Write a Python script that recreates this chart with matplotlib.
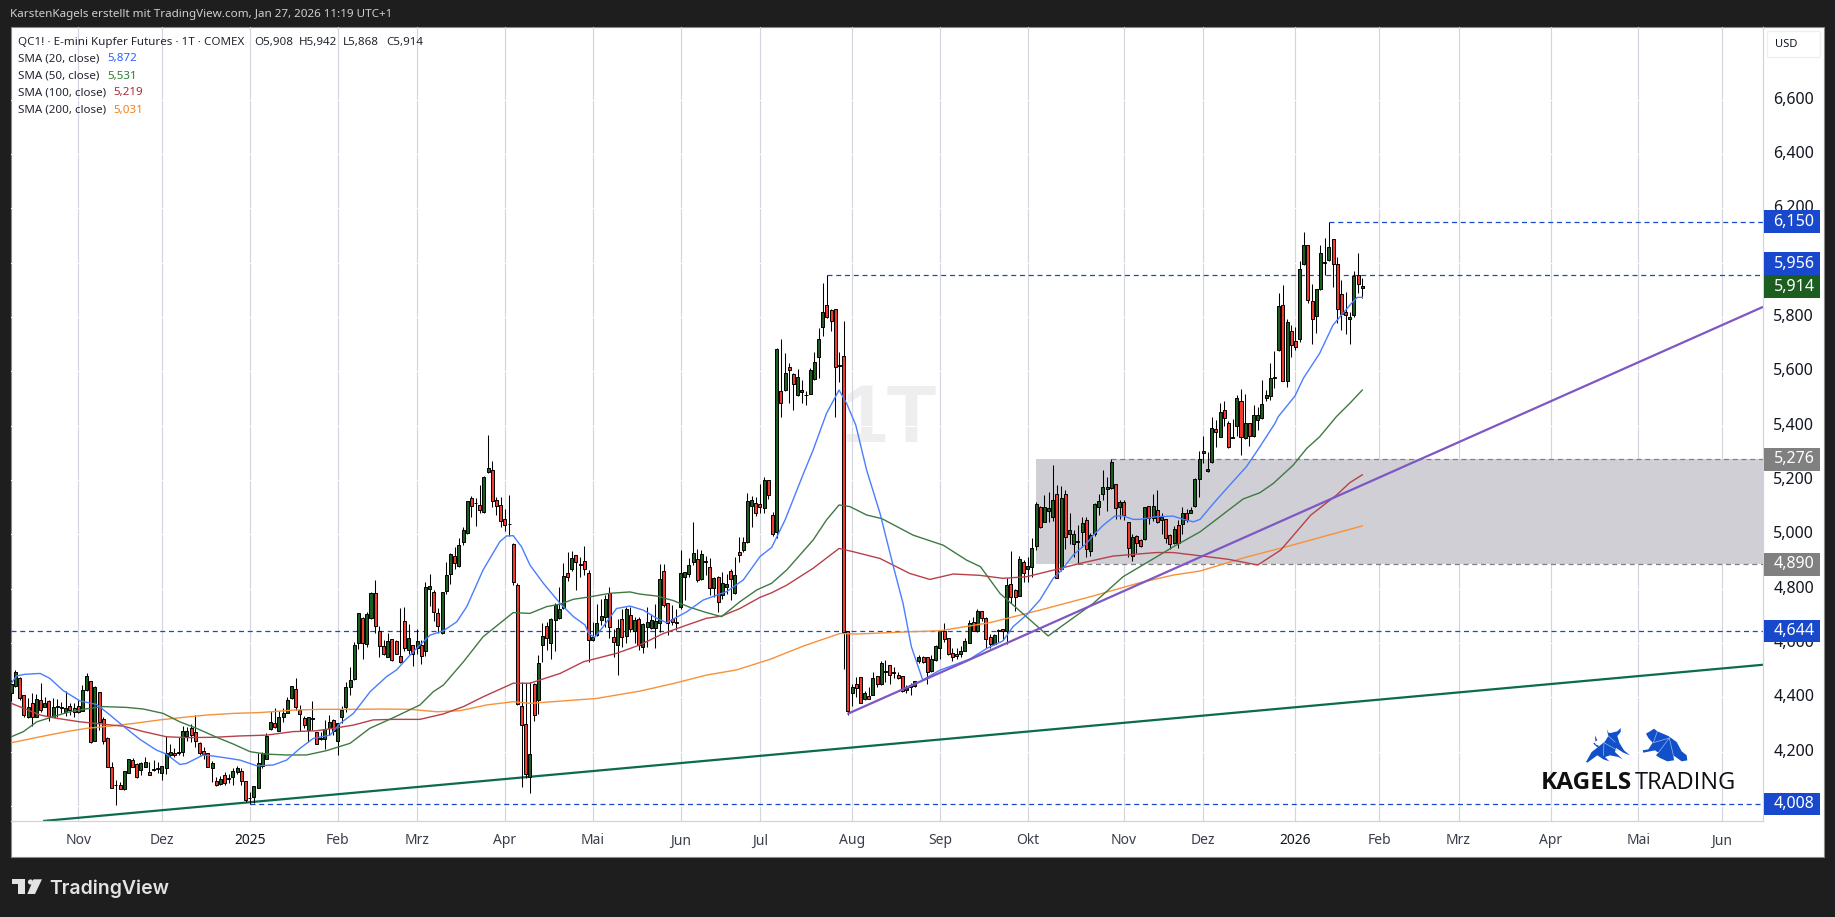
import matplotlib
matplotlib.use("Agg")
import matplotlib.pyplot as plt
from matplotlib.patches import Rectangle, Polygon, Circle
from matplotlib.transforms import blended_transform_factory, ScaledTranslation

# Daily candles
opens = [
    4417,4443,4470,4407,4326,4378,4329,4390,4363,4387,
    4329,4366,4363,4347,4368,4361,4368,4351,4427,4459,
    4241,4420,4319,4250,4142,4079,4076,4061,4123,4169,
    4153,4133,4145,4124,4138,4138,4120,4141,4189,4194,
    4196,4200,4259,4286,4271,4231,4201,4194,4141,4091,
    4080,4114,4100,4108,4124,4129,4092,4030,4034,4068,
    4147,4174,4282,4304,4277,4329,4344,4399,4429,4353,
    4323,4280,4320,4274,4245,4248,4286,4317,4241,4329,
    4363,4439,4466,4599,4692,4596,4692,4783,4644,4588,
    4550,4613,4606,4551,4680,4574,4591,4583,4591,4572,
    4800,4786,4709,4638,4791,4853,4919,4884,4973,5004,
    5132,5114,5107,5081,5229,5235,5125,5108,5055,5039,
    4965,4812,4370,4301,4106,4449,4390,4594,4661,4601,
    4683,4691,4730,4856,4874,4923,4889,4900,4856,4611,
    4629,4685,4694,4785,4623,4594,4689,4627,4704,4645,
    4689,4584,4660,4656,4654,4672,4866,4746,4687,4676,
    4731,4842,4854,4899,4908,4837,4897,4881,4802,4842,
    4777,4807,4865,4783,4934,4942,4973,5105,5116,5110,
    5098,5199,5070,5010,5529,5531,5614,5589,5511,5522,
    5511,5516,5573,5651,5764,5843,5824,5828,5624,5655,
    4643,4417,4448,4474,4393,4405,4410,4477,4448,4495,
    4518,4492,4484,4477,4426,4437,4443,4533,4548,4547,
    4498,4536,4583,4646,4617,4565,4558,4559,4571,4601,
    4676,4643,4716,4693,4622,4595,4643,4651,4645,4819,
    4795,4774,4897,4873,4881,4957,5101,5046,5087,5062,
    5147,4871,5150,5001,4964,4970,5009,5051,4940,5001,
    5099,5149,5165,5171,5187,5101,5119,5044,4921,4992,
    4978,4981,5103,5060,5088,5054,5056,4996,4967,5033,
    5039,5077,5079,5105,5202,5301,5234,5265,5386,5359,
    5456,5408,5355,5400,5489,5353,5408,5360,5422,5427,
    5503,5510,5576,5678,5845,5566,5747,5710,5717,5993,
    6063,5857,5804,5901,6000,6008,6085,5993,5883,5820,
    5791,5808,5956,5908,
]
highs = [
    4464,4501,4476,4407,4396,4415,4412,4452,4402,4390,
    4396,4393,4384,4425,4378,4378,4390,4445,4491,4461,
    4442,4421,4326,4255,4163,4096,4090,4128,4172,4178,
    4157,4163,4179,4163,4169,4163,4147,4258,4228,4212,
    4255,4294,4292,4302,4335,4237,4218,4196,4167,4108,
    4111,4126,4118,4139,4147,4139,4093,4053,4074,4194,
    4200,4270,4351,4360,4351,4360,4400,4442,4470,4372,
    4331,4329,4387,4274,4274,4317,4335,4319,4307,4368,
    4458,4510,4605,4709,4697,4715,4786,4832,4663,4611,
    4636,4613,4611,4728,4731,4670,4591,4650,4611,4826,
    4854,4795,4728,4789,4897,4930,4954,4985,5026,5124,
    5141,5132,5181,5214,5365,5268,5138,5136,5092,5145,
    4967,4822,4458,4452,4458,4454,4556,4675,4678,4691,
    4748,4807,4896,4934,4939,4925,4918,4957,4869,4678,
    4742,4761,4777,4805,4650,4687,4724,4734,4734,4694,
    4694,4672,4734,4707,4742,4891,4891,4748,4740,4727,
    4942,4862,4912,5046,4945,4942,4920,4912,4844,4847,
    4860,4853,4871,4915,4989,4989,5151,5141,5136,5187,
    5212,5200,5083,5684,5720,5668,5632,5592,5607,5568,
    5529,5611,5671,5760,5926,5956,5831,5830,5672,5784,
    4645,4449,4476,4476,4424,4437,4493,4477,4532,4537,
    4518,4513,4494,4477,4445,4454,4459,4556,4552,4549,
    4556,4592,4648,4672,4618,4580,4580,4589,4617,4684,
    4694,4724,4719,4694,4635,4632,4650,4651,4838,4938,
    4797,4920,4905,4917,4985,5120,5104,5144,5157,5255,
    5181,5178,5163,5077,5016,5034,5065,5062,5006,5114,
    5150,5236,5212,5276,5187,5126,5128,5046,5000,4997,
    4981,5101,5104,5147,5163,5077,5056,5001,5030,5052,
    5101,5095,5099,5209,5306,5361,5304,5430,5420,5482,
    5490,5418,5424,5511,5533,5516,5411,5476,5467,5568,
    5531,5629,5674,5887,5917,5794,5769,5764,6006,6111,
    6064,5923,5901,6064,6089,6150,6085,6021,5936,5890,
    5817,5968,6034,5942,
]
lows = [
    4388,4439,4390,4329,4323,4294,4326,4347,4363,4314,
    4326,4329,4341,4331,4335,4329,4341,4351,4425,4233,
    4241,4280,4228,4142,4068,4004,4061,4059,4120,4142,
    4104,4114,4145,4114,4130,4123,4096,4118,4182,4182,
    4187,4184,4241,4237,4218,4188,4174,4142,4090,4075,
    4077,4077,4084,4079,4118,4077,4016,4008,4010,4065,
    4141,4172,4280,4286,4275,4310,4341,4393,4353,4276,
    4286,4234,4280,4228,4243,4210,4261,4261,4188,4304,
    4347,4409,4464,4577,4542,4586,4687,4636,4547,4556,
    4547,4535,4559,4528,4572,4559,4515,4559,4523,4552,
    4736,4682,4636,4633,4780,4817,4871,4878,4961,5001,
    5065,5031,5080,5080,5227,5102,5071,5028,5012,4994,
    4813,4372,4069,4102,4049,4314,4339,4531,4574,4543,
    4572,4687,4726,4829,4866,4795,4842,4851,4531,4609,
    4627,4666,4660,4617,4550,4482,4586,4599,4642,4599,
    4574,4564,4586,4650,4580,4642,4734,4629,4666,4648,
    4727,4758,4844,4887,4826,4832,4850,4777,4768,4715,
    4761,4780,4758,4780,4899,4936,4969,5028,5067,5080,
    5080,5129,4994,4985,5433,5529,5482,5457,5509,5484,
    5476,5516,5568,5574,5730,5795,5749,5433,5562,4505,
    4335,4368,4402,4378,4390,4393,4407,4437,4445,4457,
    4449,4472,4466,4419,4415,4408,4439,4527,4525,4451,
    4494,4533,4543,4605,4556,4535,4540,4547,4569,4599,
    4644,4641,4682,4580,4580,4591,4605,4611,4596,4748,
    4719,4773,4825,4825,4844,4942,5025,5044,5046,5050,
    4838,4866,4946,4964,4917,4890,4954,4915,4921,4993,
    5071,5126,5086,5165,5055,5055,5052,4915,4903,4930,
    4954,4979,5038,5050,5040,5003,4967,4946,4964,4951,
    5003,5046,5077,5101,5138,5261,5230,5263,5322,5357,
    5398,5319,5353,5361,5293,5352,5325,5359,5384,5425,
    5490,5494,5539,5676,5565,5543,5653,5678,5709,5991,
    5852,5700,5742,5899,5954,6007,5911,5779,5752,5737,
    5700,5801,5889,5868,
]
closes = [
    4448,4492,4396,4336,4366,4326,4393,4353,4378,4331,
    4363,4368,4361,4361,4353,4346,4346,4427,4479,4237,
    4439,4310,4241,4145,4068,4078,4064,4128,4172,4145,
    4106,4157,4161,4115,4133,4140,4147,4194,4198,4188,
    4199,4275,4275,4261,4241,4196,4190,4145,4158,4076,
    4098,4086,4102,4128,4139,4093,4022,4028,4072,4160,
    4196,4256,4309,4292,4326,4341,4390,4440,4366,4340,
    4298,4326,4323,4229,4250,4282,4309,4277,4306,4352,
    4437,4464,4593,4709,4601,4707,4784,4664,4590,4561,
    4606,4536,4561,4529,4583,4617,4559,4606,4553,4805,
    4808,4713,4664,4786,4849,4926,4896,4959,5017,5121,
    5105,5115,5091,5210,5243,5121,5105,5048,5035,5038,
    4824,4377,4297,4119,4190,4334,4525,4624,4617,4688,
    4740,4727,4845,4844,4912,4897,4886,4871,4611,4623,
    4672,4698,4761,4660,4602,4654,4621,4724,4650,4685,
    4593,4670,4678,4685,4680,4834,4741,4672,4676,4674,
    4856,4862,4886,4932,4831,4926,4900,4804,4838,4752,
    4820,4816,4834,4849,4923,4970,5121,5125,5080,5099,
    5199,5143,5002,5683,5484,5592,5603,5552,5578,5530,
    5513,5605,5635,5720,5820,5801,5786,5614,5621,4642,
    4351,4437,4436,4380,4415,4395,4471,4448,4526,4498,
    4481,4491,4470,4422,4433,4444,4459,4548,4530,4495,
    4541,4590,4644,4616,4558,4549,4553,4569,4606,4672,
    4646,4717,4692,4613,4595,4629,4648,4643,4813,4768,
    4770,4908,4856,4882,4948,5111,5028,5100,5097,5125,
    4841,5132,4991,5016,5000,4975,5040,4947,4997,5110,
    5121,5173,5173,5265,5098,5119,5070,4948,4989,4967,
    4957,5099,5061,5106,5046,5063,4985,4965,5018,4967,
    5077,5052,5089,5203,5279,5306,5242,5390,5375,5452,
    5427,5321,5358,5500,5359,5408,5360,5438,5438,5478,
    5511,5574,5579,5839,5566,5783,5695,5690,5975,6063,
    5861,5794,5901,6034,6002,6056,5993,5831,5812,5808,
    5799,5949,5920,5914,
]

# Moving averages, read at bar positions
sma20_x = [0,1.3,3.3,6.9,9.2,12.4,16.4,20.4,23.6,26.8,30.8,34.7,37.1,40.3,41.9,45.9,48.3,52.3,54.7,58.7,62.6,65.8,69,
           72.2,76.2,78.6,81.8,85.8,89.7,92.1,96.1,100.1,103.3,106.5,108.9,112.8,116.8,118.4,120,122,124,127.2,131.2,
           134.4,137.2,138,139.5,141.5,144.7,147.9,151.1,154.3,156.7,161.5,165.4,171,175,179,181.8,185,189.4,191.7,194.9,
           197.9,199.7,201.9,204.5,207.7,210.9,213.2,215.2,217.9,222,229.2,233.2,237.1,239.5,242.7,245.9,249.1,251.1,253.9,
           257.1,258.7,261.1,263.8,265.8,268.2,269.8,273.8,277.8,280.2,282.6,284.2,288.1,291.3,295.3,298.5,302.1,302.9,
           306.9,308.9,312.8,316,320.4,321.8,323]
sma20_y = [4452,4479,4485,4488,4470,4425,4387,4374,4335,4294,4245,4206,4191,4153,4157,4188,4184,4175,4169,4148,4151,4169,4212,
           4249,4261,4304,4341,4421,4476,4501,4568,4629,4645,4678,4734,4869,4973,4994,4995,4954,4887,4820,4746,
           4697,4666,4635,4621,4660,4727,4736,4721,4691,4675,4715,4758,4789,4832,4918,4952,5053,5224,5310,5445,
           5531,5482,5402,5236,5077,4881,4746,4586,4464,4500,4541,4580,4608,4660,4703,4758,4838,4868,4924,
           4967,4997,5034,5067,5068,5055,5055,5065,5067,5055,5046,5055,5126,5181,5249,5322,5408,5433,
           5509,5574,5666,5770,5850,5872,5872]
sma50_x = [0,2.9,6.1,10,14,18,22,27.6,31.6,36.3,40.3,44.3,49.1,53.1,57.1,61,65.8,70.6,75.4,81,85.7,91.3,97.7,100.9,103.3,108.1,
           112.8,120,124,128,131.2,134.4,138.4,143.1,147.9,150.3,154.3,158.3,162.3,166.2,169.8,174.2,178.2,181.8,185.4,191.7,
           194.9,197.9,200.5,204.5,208.1,215.6,222.8,228.4,231.7,236.4,247.9,258.7,265.8,273.8,277.8,284.2,294.5,298.5,301.7,
           306.5,309.7,312.8,316.8,320,323]
sma50_y = [4255,4274,4310,4329,4347,4358,4366,4363,4357,4341,4310,4286,4253,4228,4200,4191,4188,4188,4204,4231,4286,4325,4372,4421,4445,4531,
           4623,4712,4709,4734,4743,4761,4770,4783,4788,4780,4773,4756,4731,4712,4697,4752,4795,4820,4869,4979,
           5053,5108,5102,5071,5058,4997,4960,4905,4881,4782,4626,4746,4844,4917,4954,5009,5130,5153,5187,
           5255,5316,5359,5433,5482,5531]
sma100_x = [0,2.9,6.9,10.8,16.4,22,26.8,31.6,37.1,41.9,48.3,54.7,61,67.4,73,78.6,81.8,86.5,91.3,97.7,103.3,108.1,112.8,120,124,131.2,136.8,
            144.7,150.3,155.9,161.5,166.2,169.8,174.2,179,181.8,185.4,191.7,197.9,201.3,207.7,214.8,219.6,225.2,231.6,237.1,242.7,
            249.1,255.5,263.4,273.8,277.8,284.2,291,298,303.5,310.7,316.8,320,323]
sma100_y = [4378,4360,4335,4323,4310,4301,4294,4274,4255,4252,4253,4258,4261,4274,4277,4290,4298,4317,4319,4319,4339,4366,4402,4452,4452,4488,4531,
            4562,4593,4635,4666,4691,4699,4727,4768,4785,4813,4875,4948,4936,4911,4856,4834,4854,4849,4838,4844,
            4868,4893,4920,4933,4933,4921,4908,4887,4942,5071,5144,5190,5219]
sma200_x = [0,6.9,13.2,18,23.6,29.2,35.5,40.3,46.7,53.1,59.4,67.4,73.8,81,88.9,95.3,101.7,107.3,113.6,120,124,131.2,139.9,150.3,158.3,166.2,
            173.4,181.4,189.4,198.1,202.1,214,222,234,245.9,257.9,269.8,277.8,284.2,295,305,314,323]
sma200_y = [4233,4255,4274,4286,4294,4304,4317,4325,4335,4341,4344,4353,4356,4356,4357,4356,4347,4351,4372,4384,4378,4386,4396,4423,4451,4482,
            4501,4540,4589,4635,4633,4641,4645,4675,4721,4770,4822,4850,4865,4915,4955,4993,5031]

# Trend lines and levels
green_trend_x = [7.6, 418.8]
green_trend_y = [3945, 4520]
purple_trend_x = [199.9, 418.8]
purple_trend_y = [4339, 5837]
blue_levels = [4644, 4008, 5956, 6150]
blue_level_starts = [0, 57, 195, 315]
zone_start = 245
zone_low = 4890
zone_high = 5276
zone_dash_starts = [255, 263]

# Right axis
price_ticks = [4000,4200,4400,4600,4800,5000,5200,5400,5600,5800,6000,6200,6400,6600]
badge_labels = ["6,150","5,956","5,914","5,276","4,890","4,644","4,008"]
badge_prices = [6150,5996,5912,5276,4890,4644,4008]
badge_colors = ["#1848cc","#1848cc","#1b5e20","#808080","#808080","#1848cc","#1848cc"]

# Time axis
month_bars = [16,36,57,78,97,118,139,160,179,201,222,243,266,285,307,327,346,368,389,409]
month_labels = ["Nov","Dez","2025","Feb","Mrz","Apr","Mai","Jun","Jul","Aug","Sep","Okt","Nov","Dez","2026","Feb","Mrz","Apr","Mai","Jun"]

# Legend rows
ohlc_labels = ["O5,908","H5,942","L5,868","C5,914"]
legend_names = ["SMA (20, close)","SMA (50, close)","SMA (100, close)","SMA (200, close)"]
legend_values = ["5,872","5,531","5,219","5,031"]
legend_colors = ["#2962ff","#2e7d32","#b22833","#f57f17"]

W, H = 1835, 917
UI_FONT = "Noto Sans"
LEGEND_SIZE = 8.35
TICK_SIZE = 11.5

fig = plt.figure(figsize=(W / 100, H / 100), dpi=100, facecolor="#1e1e1e")

# Back layer in pixel coordinates: white panel
back = fig.add_axes([0, 0, 1, 1], zorder=0)
back.set_xlim(0, W)
back.set_ylim(H, 0)
back.axis("off")
back.add_patch(Rectangle((10.5, 27), 1813.5, 829.5, fc="white", ec="#8a8a8a", lw=0.8))
back.text(890, 421, "1T", fontsize=59, fontweight="bold", color="#eeeeee", ha="center", va="center", family="Liberation Sans")

# Main chart
L, R, T, B = 11, 1763, 27, 821
ax = fig.add_axes([L / W, 1 - B / H, (R - L) / W, (B - T) / H], zorder=1)
ax.patch.set_alpha(0)
ax.set_xlim(-0.07, 418.8)
ax.set_ylim(3945, 6867)

for b in month_bars:
    ax.axvline(b, color="#d3d4dd", lw=0.85, zorder=0.5)
for p in price_ticks:
    ax.axhline(p, color="white", lw=0.8, zorder=0.6)

ax.add_patch(Rectangle((zone_start, zone_low), 418.8 - zone_start, zone_high - zone_low, fc="#cfcfd5", ec="none", zorder=1))
ax.hlines(zone_high, zone_dash_starts[1], 418.8, color="#808080", lw=0.9, linestyles=(0, (4, 3)), zorder=1.5)
ax.hlines(zone_low, zone_dash_starts[0], 418.8, color="#808080", lw=0.9, linestyles=(0, (4, 3)), zorder=1.5)
for level, start in zip(blue_levels, blue_level_starts):
    ax.hlines(level, start, 418.8, color="#1848cc", lw=0.9, linestyles=(0, (4, 3)), zorder=1.5)

# Candles
bars = range(len(closes))
ax.vlines(bars, lows, highs, color="black", lw=0.75, zorder=3)
for i in bars:
    up = closes[i] >= opens[i]
    ax.bar(i, abs(closes[i] - opens[i]), bottom=min(opens[i], closes[i]), width=0.72,
           color="#1b5e20" if up else "#f23a2f", edgecolor="black", linewidth=0.7, zorder=3.2)

ax.plot(sma200_x, sma200_y, color="#f7913a", lw=1.0, zorder=4)
ax.plot(sma100_x, sma100_y, color="#b8404a", lw=1.0, zorder=4.1)
ax.plot(sma50_x, sma50_y, color="#3f7a44", lw=1.0, zorder=4.2)
ax.plot(sma20_x, sma20_y, color="#4a7dff", lw=1.0, zorder=4.3)
ax.plot(green_trend_x, green_trend_y, color="#0b6b50", lw=1.6, zorder=2.5, solid_capstyle="butt")
ax.plot(purple_trend_x, purple_trend_y, color="#7e57c2", lw=1.6, zorder=5, solid_capstyle="butt")

for side in ("top", "left"):
    ax.spines[side].set_visible(False)
for side in ("bottom", "right"):
    ax.spines[side].set_color("#d1d4dc")
    ax.spines[side].set_linewidth(0.9)

ax.yaxis.tick_right()
ax.set_yticks(price_ticks)
ax.set_yticklabels([f"{p:,}" for p in price_ticks], fontsize=TICK_SIZE, color="#131722", family=UI_FONT)
ax.tick_params(axis="y", length=0, pad=7.5)
# tick texts sit slightly above their price level in the original
lift = ScaledTranslation(0, 2 / 100, fig.dpi_scale_trans)
for lab in ax.get_yticklabels():
    lab.set_transform(lab.get_transform() + lift)
ax.set_xticks(month_bars)
ax.set_xticklabels(month_labels, fontsize=10, color="#3a3e4a", family=UI_FONT)
ax.tick_params(axis="x", length=0, pad=9)
for lab in ax.get_xticklabels():
    if lab.get_text() in ("2025", "2026"):
        lab.set_fontweight("bold")
        lab.set_color("#131722")

# Front layer in pixel coordinates: header, legend, badges, logos
front = fig.add_axes([0, 0, 1, 1], zorder=2)
front.set_xlim(0, W)
front.set_ylim(H, 0)
front.axis("off")
front.patch.set_alpha(0)

front.text(10, 15, "KarstenKagels erstellt mit TradingView.com, Jan 27, 2026 11:19 UTC+1",
           fontsize=8.4, color="#cfcfcf", va="center", family=UI_FONT)
front.text(18, 42, "QC1! \u00b7 E-mini Kupfer Futures \u00b7 1T \u00b7 COMEX",
           fontsize=LEGEND_SIZE, color="#222631", va="center", family=UI_FONT)
for lab, x in zip(ohlc_labels, [254, 299, 343, 386]):
    front.text(x, 42, lab, fontsize=LEGEND_SIZE, color="#222631", va="center", family=UI_FONT)
legend_y = [59, 76, 93, 110]
value_x = [107, 107, 113, 113]
for name, val, col, y, vx in zip(legend_names, legend_values, legend_colors, legend_y, value_x):
    front.text(18, y, name, fontsize=LEGEND_SIZE, color="#222631", va="center", family=UI_FONT)
    front.text(vx, y, val, fontsize=LEGEND_SIZE, color=col, va="center", family=UI_FONT)

# USD box
front.add_patch(Rectangle((1767, 31), 53, 26, fc="white", ec="#eeeeee", lw=0.9))
front.text(1786, 44.5, "USD", fontsize=8, color="#131722", ha="center", va="center", family=UI_FONT)

# Price badges sit on the price scale
trans = blended_transform_factory(front.transData, ax.transData)
for lab, price, col in zip(badge_labels, badge_prices, badge_colors):
    front.add_patch(Rectangle((1764, price - 41.8), 56, 83.6, transform=trans, fc=col, ec="none"))
    front.text(1794, price, lab, transform=trans, fontsize=TICK_SIZE, color="white",
               ha="center", va="center", family=UI_FONT)

# Kagels logo
bull = [(58,72),(75,58),(85,42),(80,20),(85,32),(92,33),(112,28),(122,18),(122,30),(112,42),(118,62),(132,85),(150,100),
        (130,92),(108,78),(105,90),(128,112),(115,105),(90,100),(75,105),(88,118),(70,112),(52,100),(22,122),(18,120),(35,90)]
bull_tail = [(45,40),(52,55),(42,60),(48,68),(58,72),(52,76),(40,65),(46,57)]
bear = [(198,35),(210,28),(222,20),(232,28),(265,42),(290,60),(305,88),(320,100),(322,115),(305,118),(280,100),(282,115),
        (262,118),(240,108),(228,100),(235,92),(225,85),(190,92),(188,85),(205,82),(218,62),(205,48)]
for shape in (bull, bull_tail, bear):
    front.add_patch(Polygon([(1580 + x / 3, 722 + y / 3) for x, y in shape], closed=True, fc="#1150c8", ec="none"))
# thin seams inside the animals
seams = [[(70,100),(72,62)], [(72,62),(112,85)], [(85,42),(105,60)], [(232,28),(220,62)], [(220,62),(268,48)], [(268,48),(280,100)], [(235,92),(268,48)]]
for seam in seams:
    front.plot([1580 + s[0] / 3 for s in seam], [722 + s[1] / 3 for s in seam], color="#9db8ee", lw=0.5)
front.set_xlim(0, W)
front.set_ylim(H, 0)
front.text(1541, 789, "KAGELS", fontsize=17.6, fontweight="bold", color="#101010", va="baseline", family="Open Sans")
front.text(1635, 789, "TRADING", fontsize=17, color="#101010", va="baseline", family="Open Sans")

# TradingView logo
tv_col = "#e3e3e3"
front.add_patch(Polygon([(12,879.3),(25,879.3),(25,894),(17.7,894),(17.7,884.3),(12,884.3)], closed=True, fc=tv_col, ec="none"))
front.add_patch(Circle((30.5, 882), 2.6, fc=tv_col, ec="none"))
front.add_patch(Polygon([(33.5,879.3),(42,879.3),(35,894),(27.3,894)], closed=True, fc=tv_col, ec="none"))
front.text(49, 893.5, "TradingView", fontsize=14, fontweight="semibold", color=tv_col, va="baseline", family="Inter")

fig.savefig("out.png", dpi=100, facecolor=fig.get_facecolor())
